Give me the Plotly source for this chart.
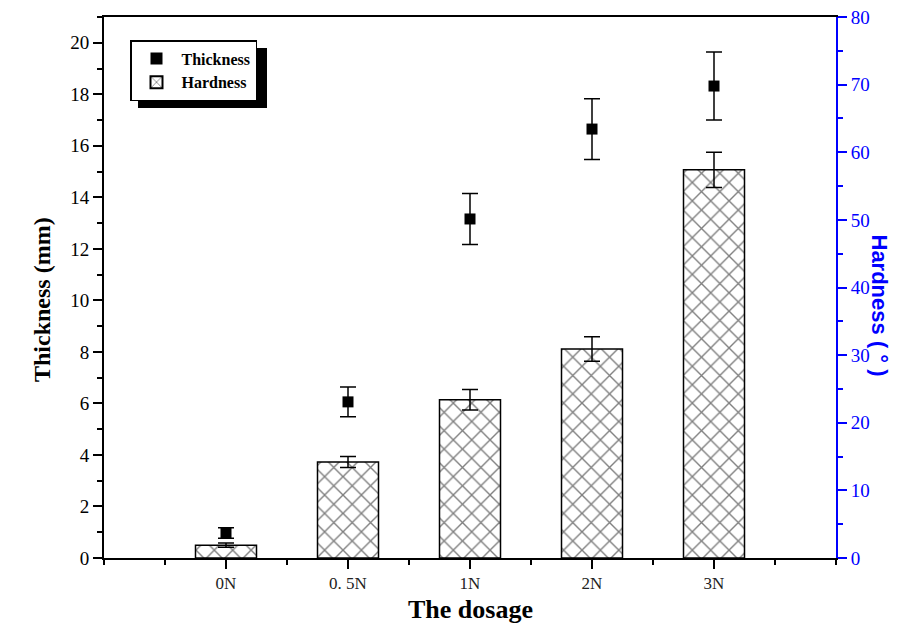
import plotly.graph_objects as go

dosage = ["0N", "0. 5N", "1N", "2N", "3N"]
thickness = [0.97, 6.06, 13.16, 16.65, 18.32]
thickness_err = [0.2, 0.58, 0.99, 1.18, 1.32]
hardness = [1.9, 14.2, 23.4, 30.9, 57.4]
hardness_err = [0.3, 0.8, 1.5, 1.8, 2.6]

pos = list(range(len(dosage)))
xrange = [-1, len(dosage)]

OFF = 8  # page body margin
W, H = 908 - OFF, 644 - OFF
# plot area in screen pixels: x 104..836, y 17..558
L, T = 104 - OFF, 17 - OFF
R, B = W - (836 - OFF), H - (558 - OFF)
pw, ph = W - L - R, H - T - B


def px(xs):
    return (xs - OFF - L) / pw


def py(ys):
    return 1 - (ys - OFF - T) / ph


fig = go.Figure()

fig.add_trace(go.Scatter(
    x=pos, y=thickness, name="Thickness", mode="markers",
    marker=dict(symbol="square", size=11, color="black"),
    error_y=dict(type="data", array=thickness_err, color="black", thickness=1.5, width=8),
    xaxis="x", yaxis="y",
))

fig.add_trace(go.Bar(
    x=pos, y=hardness, name="Hardness", width=0.5,
    marker=dict(color="white", line=dict(color="black", width=1.5),
                pattern=dict(shape="x", size=13, solidity=0.2, fgcolor="black", bgcolor="white")),
    error_y=dict(type="data", array=hardness_err, color="black", thickness=1.5, width=8),
    xaxis="x", yaxis="y2",
))

serif = "Liberation Serif"

fig.update_layout(
    width=W, height=H,
    margin=dict(l=L, r=R, t=T, b=B, autoexpand=False),
    plot_bgcolor="white", paper_bgcolor="white",
    showlegend=True,
    legend=dict(
        x=px(130), y=py(40), xanchor="left", yanchor="top",
        bgcolor="white", bordercolor="black", borderwidth=1.5,
        font=dict(family=serif, size=16, color="black", weight="bold"),
        tracegroupgap=0, itemsizing="constant", itemwidth=40,
    ),
    xaxis=dict(
        range=xrange, tickmode="array", tickvals=pos, ticktext=dosage, automargin=False,
        showline=True, linecolor="black", linewidth=2, mirror=True,
        ticks="outside", ticklen=9, tickwidth=2, tickcolor="black",
        minor=dict(dtick=0.5, tick0=0, ticks="outside", ticklen=5, tickwidth=2, tickcolor="black"),
        tickfont=dict(family=serif, size=17, color="#222"),
        showgrid=False, zeroline=False,
    ),
    xaxis2=dict(
        range=xrange, overlaying="x", side="top", anchor="y", automargin=False,
        tickmode="array", tickvals=pos, showticklabels=False,
        ticks="inside", ticklen=9, tickwidth=2, tickcolor="black",
        minor=dict(dtick=0.5, tick0=0, ticks="inside", ticklen=5, tickwidth=2, tickcolor="black"),
        showline=False, showgrid=False, zeroline=False,
    ),
    yaxis=dict(
        range=[0, 21], dtick=2, tick0=0, automargin=False,
        showline=True, linecolor="black", linewidth=2,
        ticks="outside", ticklen=9, tickwidth=2, tickcolor="black",
        minor=dict(dtick=1, ticks="outside", ticklen=5, tickwidth=2, tickcolor="black"),
        tickfont=dict(family=serif, size=19, color="black"),
        showgrid=False, zeroline=False, ticklabeloverflow="allow",
    ),
    yaxis2=dict(
        range=[0, 80], dtick=10, tick0=0, overlaying="y", side="right", anchor="x", automargin=False,
        showline=True, linecolor="blue", linewidth=2,
        ticks="outside", ticklen=9, tickwidth=2, tickcolor="blue",
        minor=dict(dtick=5, ticks="outside", ticklen=5, tickwidth=2, tickcolor="blue"),
        tickfont=dict(family=serif, size=19, color="blue"),
        showgrid=False, zeroline=False, ticklabeloverflow="allow",
    ),
    annotations=[
        dict(text="Thickness (mm)", xref="paper", yref="paper", x=px(27), y=py(300),
             textangle=-90, showarrow=False,
             font=dict(family=serif, size=24, color="black", weight="bold")),
        dict(text="Hardness ( ° )", xref="paper", yref="paper", x=px(894), y=py(305),
             textangle=90, showarrow=False,
             font=dict(family="Liberation Sans", size=22, color="blue", weight="bold")),
        dict(text="The dosage", xref="paper", yref="paper", x=px(470), y=py(626),
             showarrow=False,
             font=dict(family=serif, size=26, color="black", weight="bold")),
    ],
    shapes=[
        dict(type="rect", xref="paper", yref="paper", x0=px(138), x1=px(267), y0=py(108), y1=py(48),
             fillcolor="black", line=dict(width=0), layer="above"),
    ],
)

fig.write_html("out.html")
